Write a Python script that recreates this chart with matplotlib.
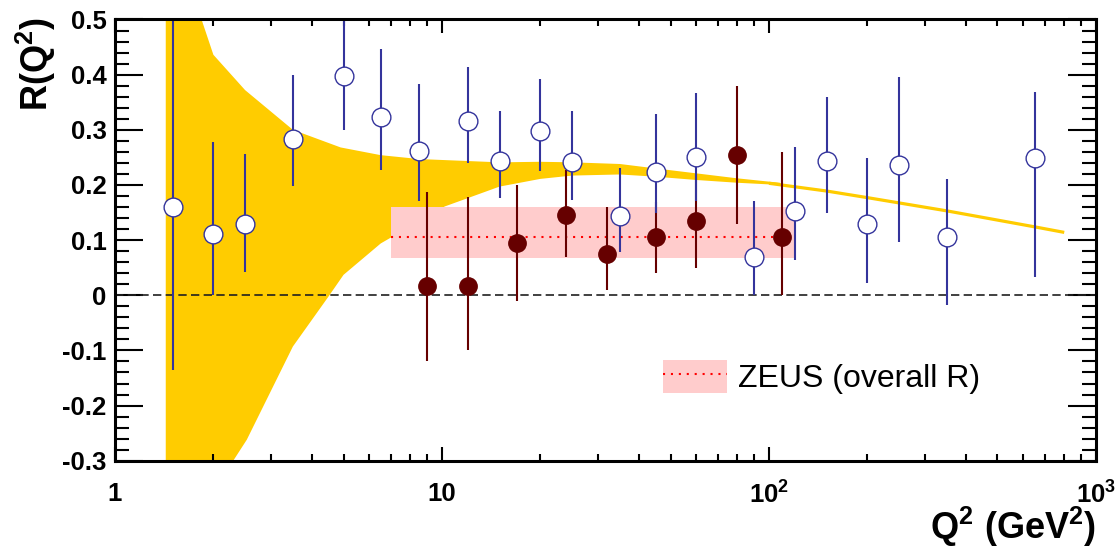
import matplotlib
matplotlib.use("Agg")
import matplotlib.pyplot as plt
from matplotlib.patches import Patch
from matplotlib.lines import Line2D
from matplotlib.ticker import FixedLocator, FixedFormatter, LogLocator, NullFormatter, MultipleLocator

plt.rcParams['font.family'] = ['Liberation Sans', 'DejaVu Sans']
plt.rcParams['mathtext.fontset'] = 'custom'
plt.rcParams['mathtext.rm'] = 'Liberation Sans:bold'
plt.rcParams['mathtext.bf'] = 'Liberation Sans:bold'
plt.rcParams['mathtext.it'] = 'Liberation Sans:bold'

# ---- data: H1-style points (open circles) ----
open_q = [1.5, 2.0, 2.5, 3.5, 5.0, 6.5, 8.5, 12, 15, 20, 25, 35, 45, 60, 90, 120, 150, 200, 250, 350, 650]
open_r = [0.160, 0.111, 0.129, 0.283, 0.398, 0.324, 0.262, 0.316, 0.243, 0.297, 0.241, 0.143, 0.224,
          0.251, 0.069, 0.153, 0.243, 0.129, 0.236, 0.106, 0.248]
open_lo = [0.295, 0.111, 0.086, 0.084, 0.098, 0.096, 0.091, 0.076, 0.067, 0.072, 0.068, 0.064, 0.075,
           0.081, 0.069, 0.089, 0.094, 0.106, 0.140, 0.123, 0.214]
open_hi = [0.40, 0.166, 0.127, 0.117, 0.11, 0.122, 0.121, 0.098, 0.091, 0.095, 0.093, 0.087, 0.105,
           0.116, 0.102, 0.115, 0.116, 0.119, 0.160, 0.105, 0.121]

# ---- data: ZEUS points (filled circles) ----
zeus_q = [9, 12, 17, 24, 32, 45, 60, 80, 110]
zeus_r = [0.016, 0.016, 0.095, 0.145, 0.075, 0.105, 0.135, 0.254, 0.105]
zeus_lo = [0.136, 0.116, 0.105, 0.075, 0.065, 0.064, 0.085, 0.125, 0.105]
zeus_hi = [0.172, 0.163, 0.105, 0.082, 0.085, 0.064, 0.085, 0.126, 0.154]

# ---- ZEUS overall R band ----
zeus_band_q = [7.0, 120.0]
zeus_band_r = 0.105
zeus_band_lo = 0.068
zeus_band_hi = 0.160

# ---- theory band (yellow) ----
band_hi_q = [1.43, 1.84, 2.0, 2.5, 3.5, 4.9, 6.5, 8.5, 15, 20, 25, 35, 45, 60, 80, 108]
band_hi_r = [0.90, 0.50, 0.436, 0.372, 0.300, 0.268, 0.254, 0.247, 0.241, 0.242, 0.241, 0.238,
             0.230, 0.221, 0.212, 0.204]
band_lo_q = [1.43, 2.30, 2.53, 3.5, 4.49, 5.0, 6.5, 10.2, 15, 20, 25, 35, 45, 60, 80, 108]
band_lo_r = [-1.50, -0.300, -0.262, -0.093, -0.003, 0.037, 0.094, 0.161, 0.197, 0.211, 0.217,
             0.219, 0.215, 0.209, 0.204, 0.200]
line_q = [100, 150, 200, 350, 650, 800]
line_r = [0.203, 0.189, 0.177, 0.153, 0.124, 0.114]

x_ticks = [1, 10, 100, 1000]
x_tick_labels = ['1', '10', r'$\mathbf{10^{2}}$', r'$\mathbf{10^{3}}$']
y_ticks = [-0.3, -0.2, -0.1, 0.0, 0.1, 0.2, 0.3, 0.4, 0.5]
y_tick_labels = ['-0.3', '-0.2', '-0.1', '0', '0.1', '0.2', '0.3', '0.4', '0.5']

BLUE = '#34349c'
DRED = '#660000'
YELLOW = '#FFCC00'
PINK = '#FFCCCC'

fig = plt.figure(figsize=(11.15, 5.49), dpi=100)
ax = fig.add_axes([0.1031, 0.1608, 0.8798, 0.8037])
ax.set_xscale('log')
ax.set_xlim(1, 1000)
ax.set_ylim(-0.3, 0.5)

# yellow band
poly_x = list(band_hi_q) + list(reversed(band_lo_q))
poly_y = list(band_hi_r) + list(reversed(band_lo_r))
ax.fill(poly_x, poly_y, color=YELLOW, lw=0, zorder=1)
ax.plot(line_q, line_r, color=YELLOW, lw=2.3, zorder=1, solid_capstyle='butt')

# ZEUS overall band
ax.fill_between(zeus_band_q, [zeus_band_lo] * 2, [zeus_band_hi] * 2, color=PINK, lw=0, zorder=2)
ax.plot(zeus_band_q, [zeus_band_r] * 2, color='red', lw=1.5, linestyle=(0, (1.0, 2.8)), zorder=3)

# zero line
ax.axhline(0, color='#202020', lw=1.2, linestyle=(0, (5.0, 2.6)), zorder=3)

# ZEUS points
ax.errorbar(zeus_q, zeus_r, yerr=[zeus_lo, zeus_hi], fmt='o', color=DRED, ms=12.5,
            mec=DRED, mfc=DRED, elinewidth=1.5, capsize=0, zorder=4)

# open points
ax.errorbar(open_q, open_r, yerr=[open_lo, open_hi], fmt='o', color=BLUE, ms=13.5,
            mec=BLUE, mfc='white', mew=1.0, elinewidth=1.5, capsize=0, zorder=5)

# legend
h_patch = Patch(facecolor=PINK, edgecolor='none')
h_line = Line2D([], [], color='red', lw=1.5, linestyle=(0, (1.0, 2.8)))
leg = ax.legend([(h_patch, h_line)], ['ZEUS (overall R)'], loc='center left',
                bbox_to_anchor=(0.5586, 0.1897), frameon=False, fontsize=23,
                handlelength=2.0, handleheight=1.2, handletextpad=0.35,
                borderpad=0, borderaxespad=0)

# axes styling
for s in ax.spines.values():
    s.set_linewidth(2.2)
    s.set_zorder(10)

ax.xaxis.set_major_locator(FixedLocator(x_ticks))
ax.xaxis.set_major_formatter(FixedFormatter(x_tick_labels))
ax.xaxis.set_minor_locator(LogLocator(base=10, subs=[2, 3, 4, 5, 6, 7, 8, 9], numticks=20))
ax.xaxis.set_minor_formatter(NullFormatter())
ax.yaxis.set_major_locator(FixedLocator(y_ticks))
ax.yaxis.set_major_formatter(FixedFormatter(y_tick_labels))
ax.yaxis.set_minor_locator(MultipleLocator(0.02))

ax.tick_params(axis='both', which='both', direction='in', top=True, right=True, width=1.5, color='black')
ax.tick_params(axis='y', which='major', length=20, pad=6)
ax.tick_params(axis='y', which='minor', length=10)
ax.tick_params(axis='x', which='major', length=10, pad=15)
ax.tick_params(axis='x', which='minor', length=5)
for lab in ax.get_xticklabels() + ax.get_yticklabels():
    lab.set_fontsize(18.5)
    lab.set_fontweight('bold')

ax.text(-0.081, 1.006, r'$\mathbf{R(Q^{2})}$', transform=ax.transAxes, rotation=90,
        ha='center', va='top', fontsize=26)
ax.text(1.0, -0.178, r'$\mathbf{Q^{2}\ (GeV^{2})}$', transform=ax.transAxes,
        ha='right', va='baseline', fontsize=26)

fig.savefig('out.png', dpi=100)
